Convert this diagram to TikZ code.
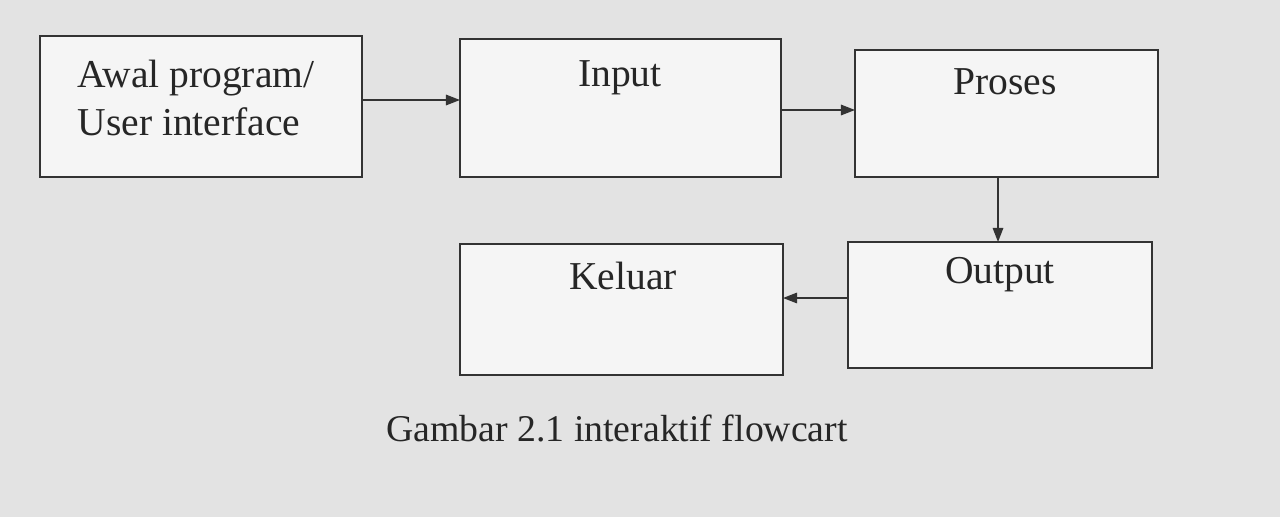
\documentclass[tikz,border=0pt]{standalone}
\usepackage{fontspec}
\setmainfont{Liberation Serif}
\usetikzlibrary{arrows.meta}
\begin{document}
\begin{tikzpicture}[x=0.02cm,y=-0.02cm,
  box/.style={draw=black!80,line width=0.9pt,fill=white!92!gray},
  lbl/.style={font=\fontsize{22.5}{27}\selectfont,text=black!85,align=left},
  arr/.style={draw=black!80,line width=0.8pt,-{Triangle[length=8pt,width=6pt]}}]
\fill[gray!22] (0,0) rectangle (1280,517);
\useasboundingbox (0,0) rectangle (1280,517);
\draw[box] (40,36) rectangle (362,177);
\draw[box] (460,39) rectangle (781,177);
\draw[box] (855,50) rectangle (1158,177);
\draw[box] (460,244) rectangle (783,375);
\draw[box] (848,242) rectangle (1152,368);
\node[lbl] (t1) at (196,98) {Awal program/\\User interface};
\node[lbl] (t2) at (620,78) {Input};
\node[lbl] (t3) at (1005,82) {Proses};
\node[lbl] (t4) at (623,276) {Keluar};
\node[lbl] (t5) at (1000,275) {Output};
\coordinate (a1) at (362,100); \coordinate (b1) at (460,100);
\coordinate (b2) at (781,110); \coordinate (c2) at (855,110);
\coordinate (c3) at (998,177); \coordinate (e3) at (998,242);
\coordinate (e4) at (848,298); \coordinate (d4) at (783,298);
\draw[arr] (a1) -- (b1);
\draw[arr] (b2) -- (c2);
\draw[arr] (c3) -- (e3);
\draw[arr] (e4) -- (d4);
\node[font=\fontsize{21.5}{26}\selectfont,text=black!85] (cap) at (617,428) {Gambar 2.1 interaktif flowcart};
\end{tikzpicture}
\end{document}
